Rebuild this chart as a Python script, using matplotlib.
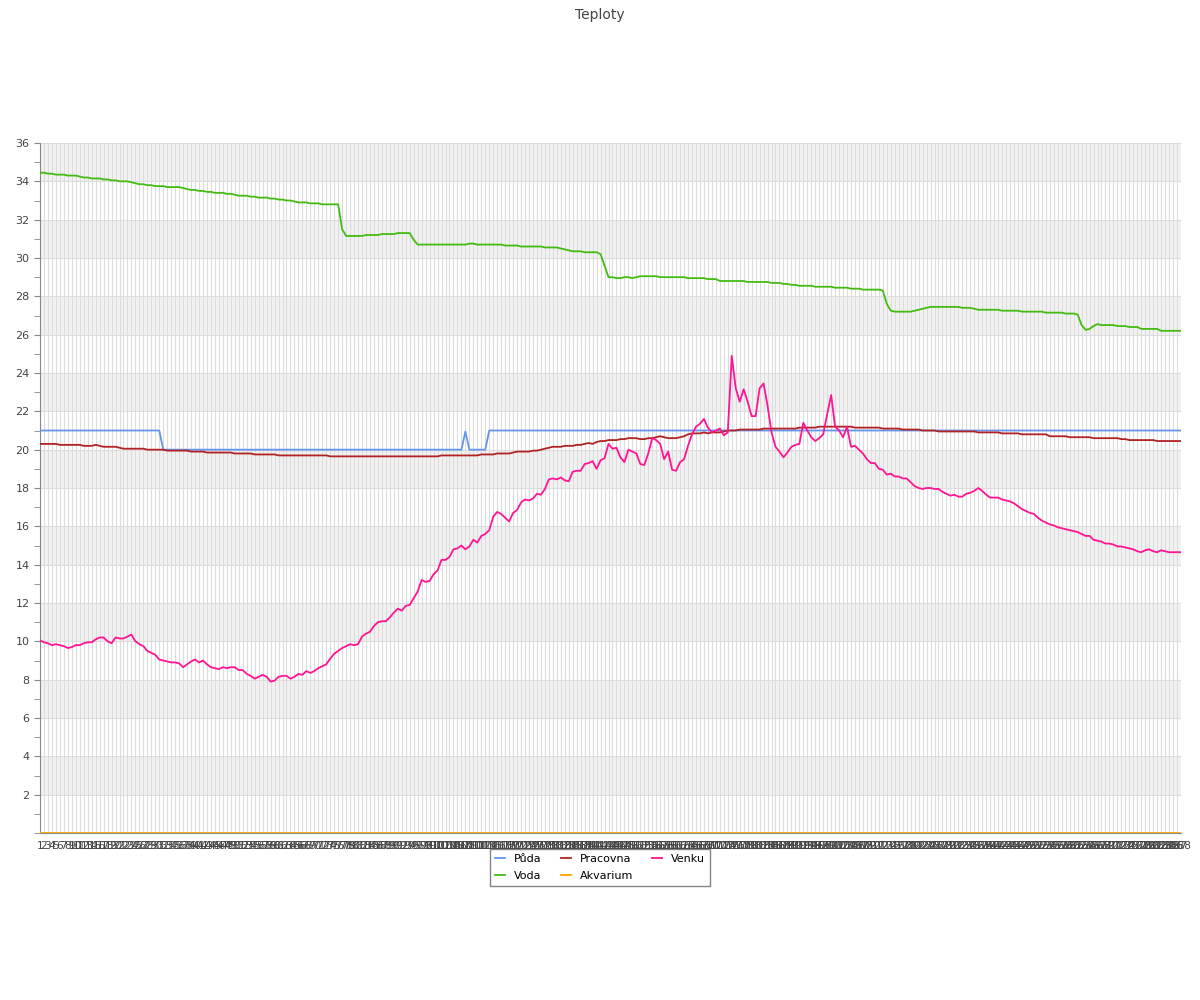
import matplotlib.pyplot as plt
import numpy as np

# x categories 1..288 (one reading every 5 min)
labels = [str(i) for i in range(1, 289)]

puda = ([21.0] * 31 + [20.0] * 76 + [20.95] + [20.0] * 5 + [21.0] * 175)

voda = [
    34.45, 34.45, 34.4, 34.4, 34.35, 34.35, 34.35, 34.3, 34.3, 34.3, 34.25, 34.2, 34.2, 34.15, 34.15, 34.15,
    34.1, 34.1, 34.05, 34.05, 34.0, 34.0, 34.0, 33.95, 33.9, 33.85, 33.85, 33.8, 33.8, 33.75, 33.75, 33.75,
    33.7, 33.7, 33.7, 33.7, 33.65, 33.6, 33.55, 33.55, 33.5, 33.5, 33.45, 33.45, 33.4, 33.4, 33.4, 33.35,
    33.35, 33.3, 33.25, 33.25, 33.25, 33.2, 33.2, 33.15, 33.15, 33.15, 33.1, 33.1, 33.05, 33.05, 33.0, 33.0,
    32.95, 32.9, 32.9, 32.9, 32.85, 32.85, 32.85, 32.8, 32.8, 32.8, 32.8, 32.8, 31.5, 31.15, 31.15, 31.15,
    31.15, 31.15, 31.2, 31.2, 31.2, 31.2, 31.25, 31.25, 31.25, 31.25, 31.3, 31.3, 31.3, 31.3, 30.95, 30.7,
    30.7, 30.7, 30.7, 30.7, 30.7, 30.7, 30.7, 30.7, 30.7, 30.7, 30.7, 30.7, 30.75, 30.75, 30.7, 30.7,
    30.7, 30.7, 30.7, 30.7, 30.7, 30.65, 30.65, 30.65, 30.65, 30.6, 30.6, 30.6, 30.6, 30.6, 30.6, 30.55,
    30.55, 30.55, 30.55, 30.5, 30.45, 30.4, 30.35, 30.35, 30.35, 30.3, 30.3, 30.3, 30.3, 30.2, 29.6, 29.0,
    29.0, 28.95, 28.95, 29.0, 29.0, 28.95, 29.0, 29.05, 29.05, 29.05, 29.05, 29.05, 29.0, 29.0, 29.0, 29.0,
    29.0, 29.0, 29.0, 28.95, 28.95, 28.95, 28.95, 28.95, 28.9, 28.9, 28.9, 28.8, 28.8, 28.8, 28.8, 28.8,
    28.8, 28.8, 28.75, 28.75, 28.75, 28.75, 28.75, 28.75, 28.7, 28.7, 28.7, 28.65, 28.65, 28.6, 28.6, 28.55,
    28.55, 28.55, 28.55, 28.5, 28.5, 28.5, 28.5, 28.5, 28.45, 28.45, 28.45, 28.45, 28.4, 28.4, 28.4, 28.35,
    28.35, 28.35, 28.35, 28.35, 28.3, 27.6, 27.25, 27.2, 27.2, 27.2, 27.2, 27.2, 27.25, 27.3, 27.35, 27.4,
    27.45, 27.45, 27.45, 27.45, 27.45, 27.45, 27.45, 27.45, 27.4, 27.4, 27.4, 27.35, 27.3, 27.3, 27.3, 27.3,
    27.3, 27.3, 27.25, 27.25, 27.25, 27.25, 27.25, 27.2, 27.2, 27.2, 27.2, 27.2, 27.2, 27.15, 27.15, 27.15,
    27.15, 27.15, 27.1, 27.1, 27.1, 27.05, 26.5, 26.25, 26.3, 26.45, 26.55, 26.5, 26.5, 26.5, 26.5, 26.45,
    26.45, 26.45, 26.4, 26.4, 26.4, 26.3, 26.3, 26.3, 26.3, 26.3, 26.2, 26.2, 26.2, 26.2, 26.2, 26.2,
]

pracovna = [
    20.3, 20.3, 20.3, 20.3, 20.3, 20.25, 20.25, 20.25, 20.25, 20.25, 20.25, 20.2, 20.2, 20.2, 20.25, 20.2,
    20.15, 20.15, 20.15, 20.15, 20.1, 20.05, 20.05, 20.05, 20.05, 20.05, 20.05, 20.0, 20.0, 20.0, 20.0, 20.0,
    19.95, 19.95, 19.95, 19.95, 19.95, 19.95, 19.9, 19.9, 19.9, 19.9, 19.85, 19.85, 19.85, 19.85, 19.85, 19.85,
    19.85, 19.8, 19.8, 19.8, 19.8, 19.8, 19.75, 19.75, 19.75, 19.75, 19.75, 19.75, 19.7, 19.7, 19.7, 19.7,
    19.7, 19.7, 19.7, 19.7, 19.7, 19.7, 19.7, 19.7, 19.7, 19.65, 19.65, 19.65, 19.65, 19.65, 19.65, 19.65,
    19.65, 19.65, 19.65, 19.65, 19.65, 19.65, 19.65, 19.65, 19.65, 19.65, 19.65, 19.65, 19.65, 19.65, 19.65, 19.65,
    19.65, 19.65, 19.65, 19.65, 19.65, 19.7, 19.7, 19.7, 19.7, 19.7, 19.7, 19.7, 19.7, 19.7, 19.7, 19.75,
    19.75, 19.75, 19.75, 19.8, 19.8, 19.8, 19.8, 19.85, 19.9, 19.9, 19.9, 19.9, 19.95, 19.95, 20.0, 20.05,
    20.1, 20.15, 20.15, 20.15, 20.2, 20.2, 20.2, 20.25, 20.25, 20.3, 20.35, 20.3, 20.4, 20.45, 20.45, 20.5,
    20.5, 20.5, 20.55, 20.55, 20.6, 20.6, 20.6, 20.55, 20.55, 20.6, 20.6, 20.65, 20.7, 20.65, 20.6, 20.6,
    20.6, 20.65, 20.7, 20.8, 20.85, 20.85, 20.85, 20.9, 20.85, 20.9, 20.9, 20.9, 20.95, 21.0, 21.0, 21.0,
    21.05, 21.05, 21.05, 21.05, 21.05, 21.05, 21.1, 21.1, 21.1, 21.1, 21.1, 21.1, 21.1, 21.1, 21.1, 21.15,
    21.15, 21.15, 21.15, 21.15, 21.2, 21.2, 21.2, 21.2, 21.2, 21.2, 21.2, 21.2, 21.2, 21.15, 21.15, 21.15,
    21.15, 21.15, 21.15, 21.15, 21.1, 21.1, 21.1, 21.1, 21.1, 21.05, 21.05, 21.05, 21.05, 21.05, 21.0, 21.0,
    21.0, 21.0, 20.95, 20.95, 20.95, 20.95, 20.95, 20.95, 20.95, 20.95, 20.95, 20.95, 20.9, 20.9, 20.9, 20.9,
    20.9, 20.9, 20.85, 20.85, 20.85, 20.85, 20.85, 20.8, 20.8, 20.8, 20.8, 20.8, 20.8, 20.8, 20.7, 20.7,
    20.7, 20.7, 20.7, 20.65, 20.65, 20.65, 20.65, 20.65, 20.65, 20.6, 20.6, 20.6, 20.6, 20.6, 20.6, 20.6,
    20.55, 20.55, 20.5, 20.5, 20.5, 20.5, 20.5, 20.5, 20.5, 20.45, 20.45, 20.45, 20.45, 20.45, 20.45, 20.45,
]

akvarium = [0.0] * 288

venku = [
    10.05, 9.95, 9.9, 9.8, 9.85, 9.8, 9.75, 9.65, 9.7, 9.8, 9.8, 9.9, 9.95, 9.95, 10.1, 10.2,
    10.2, 10.0, 9.9, 10.2, 10.15, 10.15, 10.25, 10.35, 10.0, 9.85, 9.75, 9.5, 9.4, 9.3, 9.05, 9.0,
    8.95, 8.9, 8.9, 8.85, 8.65, 8.8, 8.95, 9.05, 8.9, 9.0, 8.8, 8.65, 8.6, 8.55, 8.65, 8.6,
    8.65, 8.65, 8.5, 8.5, 8.3, 8.2, 8.05, 8.15, 8.25, 8.15, 7.9, 7.95, 8.15, 8.2, 8.2, 8.05,
    8.15, 8.3, 8.25, 8.45, 8.35, 8.45, 8.6, 8.7, 8.8, 9.1, 9.35, 9.5, 9.65, 9.75, 9.85, 9.8,
    9.85, 10.25, 10.4, 10.5, 10.8, 11.0, 11.05, 11.05, 11.25, 11.5, 11.7, 11.6, 11.85, 11.9, 12.25, 12.6,
    13.2, 13.1, 13.15, 13.5, 13.7, 14.25, 14.25, 14.4, 14.8, 14.85, 15.0, 14.8, 14.95, 15.3, 15.15, 15.5,
    15.6, 15.8, 16.5, 16.75, 16.65, 16.45, 16.25, 16.7, 16.85, 17.25, 17.4, 17.35, 17.45, 17.7, 17.65, 17.95,
    18.45, 18.5, 18.45, 18.55, 18.4, 18.35, 18.85, 18.9, 18.9, 19.25, 19.3, 19.4, 19.0, 19.45, 19.55, 20.3,
    20.05, 20.1, 19.6, 19.35, 20.0, 19.9, 19.8, 19.25, 19.2, 19.8, 20.6, 20.5, 20.3, 19.5, 19.9, 18.95,
    18.9, 19.35, 19.5, 20.2, 20.8, 21.2, 21.35, 21.6, 21.15, 20.9, 21.0, 21.1, 20.75, 20.9, 24.9, 23.2,
    22.5, 23.15, 22.5, 21.75, 21.75, 23.2, 23.45, 22.3, 20.9, 20.15, 19.9, 19.6, 19.85, 20.15, 20.25, 20.3,
    21.4, 21.0, 20.65, 20.45, 20.6, 20.8, 21.85, 22.85, 21.2, 21.0, 20.65, 21.2, 20.15, 20.2, 20.0, 19.8,
    19.5, 19.3, 19.3, 19.0, 18.95, 18.7, 18.75, 18.6, 18.6, 18.5, 18.5, 18.3, 18.1, 18.0, 17.95, 18.0,
    18.0, 17.95, 17.95, 17.8, 17.7, 17.6, 17.65, 17.55, 17.55, 17.7, 17.75, 17.85, 18.0, 17.85, 17.65, 17.5,
    17.5, 17.5, 17.4, 17.35, 17.3, 17.2, 17.05, 16.9, 16.8, 16.7, 16.65, 16.45, 16.3, 16.2, 16.1, 16.05,
    15.95, 15.9, 15.85, 15.8, 15.75, 15.7, 15.6, 15.5, 15.5, 15.3, 15.25, 15.2, 15.1, 15.1, 15.05, 14.95,
    14.95, 14.9, 14.85, 14.8, 14.7, 14.65, 14.75, 14.8, 14.7, 14.65, 14.75, 14.7, 14.65, 14.65, 14.65, 14.65,
]

series = [
    ('Půda', puda, '#6495ed'),
    ('Voda', voda, '#44bb11'),
    ('Pracovna', pracovna, '#b22222'),
    ('Akvarium', akvarium, '#ffa500'),
    ('Venku', venku, '#ff1493'),
]

x = np.arange(len(labels))

fig = plt.figure(figsize=(12, 10), dpi=100)
ax = fig.add_axes([40 / 1200, 0.167, 1141 / 1200, 0.69])

# alternating bands
for lo in range(2, 36, 4):
    ax.axhspan(lo, lo + 2, color='#f2f2f2', zorder=0, lw=0)
for yv in range(2, 37, 2):
    ax.axhline(yv, color='#dddddd', lw=0.8, zorder=0.5)
for xv in x:
    ax.axvline(xv, color='#dcdcdc', lw=0.8, zorder=0.5)

for name, vals, col in series:
    ax.plot(x, vals, color=col, lw=1.3, label=name, zorder=3)

ax.set_xlim(0, len(labels) - 1)
ax.set_ylim(0, 36)
ax.set_yticks(range(2, 37, 2))
ax.set_yticks(range(0, 37), minor=True)
ax.set_xticks(x)
ax.set_xticklabels(labels, fontsize=7.5, color='#444444')
ax.tick_params(axis='x', length=0, pad=6)
ax.tick_params(axis='y', which='both', length=4, color='#888888', labelsize=8, labelcolor='#444444')
for s in ['top', 'right']:
    ax.spines[s].set_visible(False)
ax.spines['left'].set_color('#888888')
ax.spines['bottom'].set_color('#888888')

fig.suptitle('Teploty', y=0.992, fontsize=10, color='#444444')

fig.legend(loc='upper center', bbox_to_anchor=(0.5, 0.157), ncol=3, fontsize=8,
           fancybox=False, edgecolor='#666666', handlelength=0.9, columnspacing=1.7,
           borderpad=0.5, labelspacing=0.6, handletextpad=0.8)

fig.savefig('out.png', dpi=100)
